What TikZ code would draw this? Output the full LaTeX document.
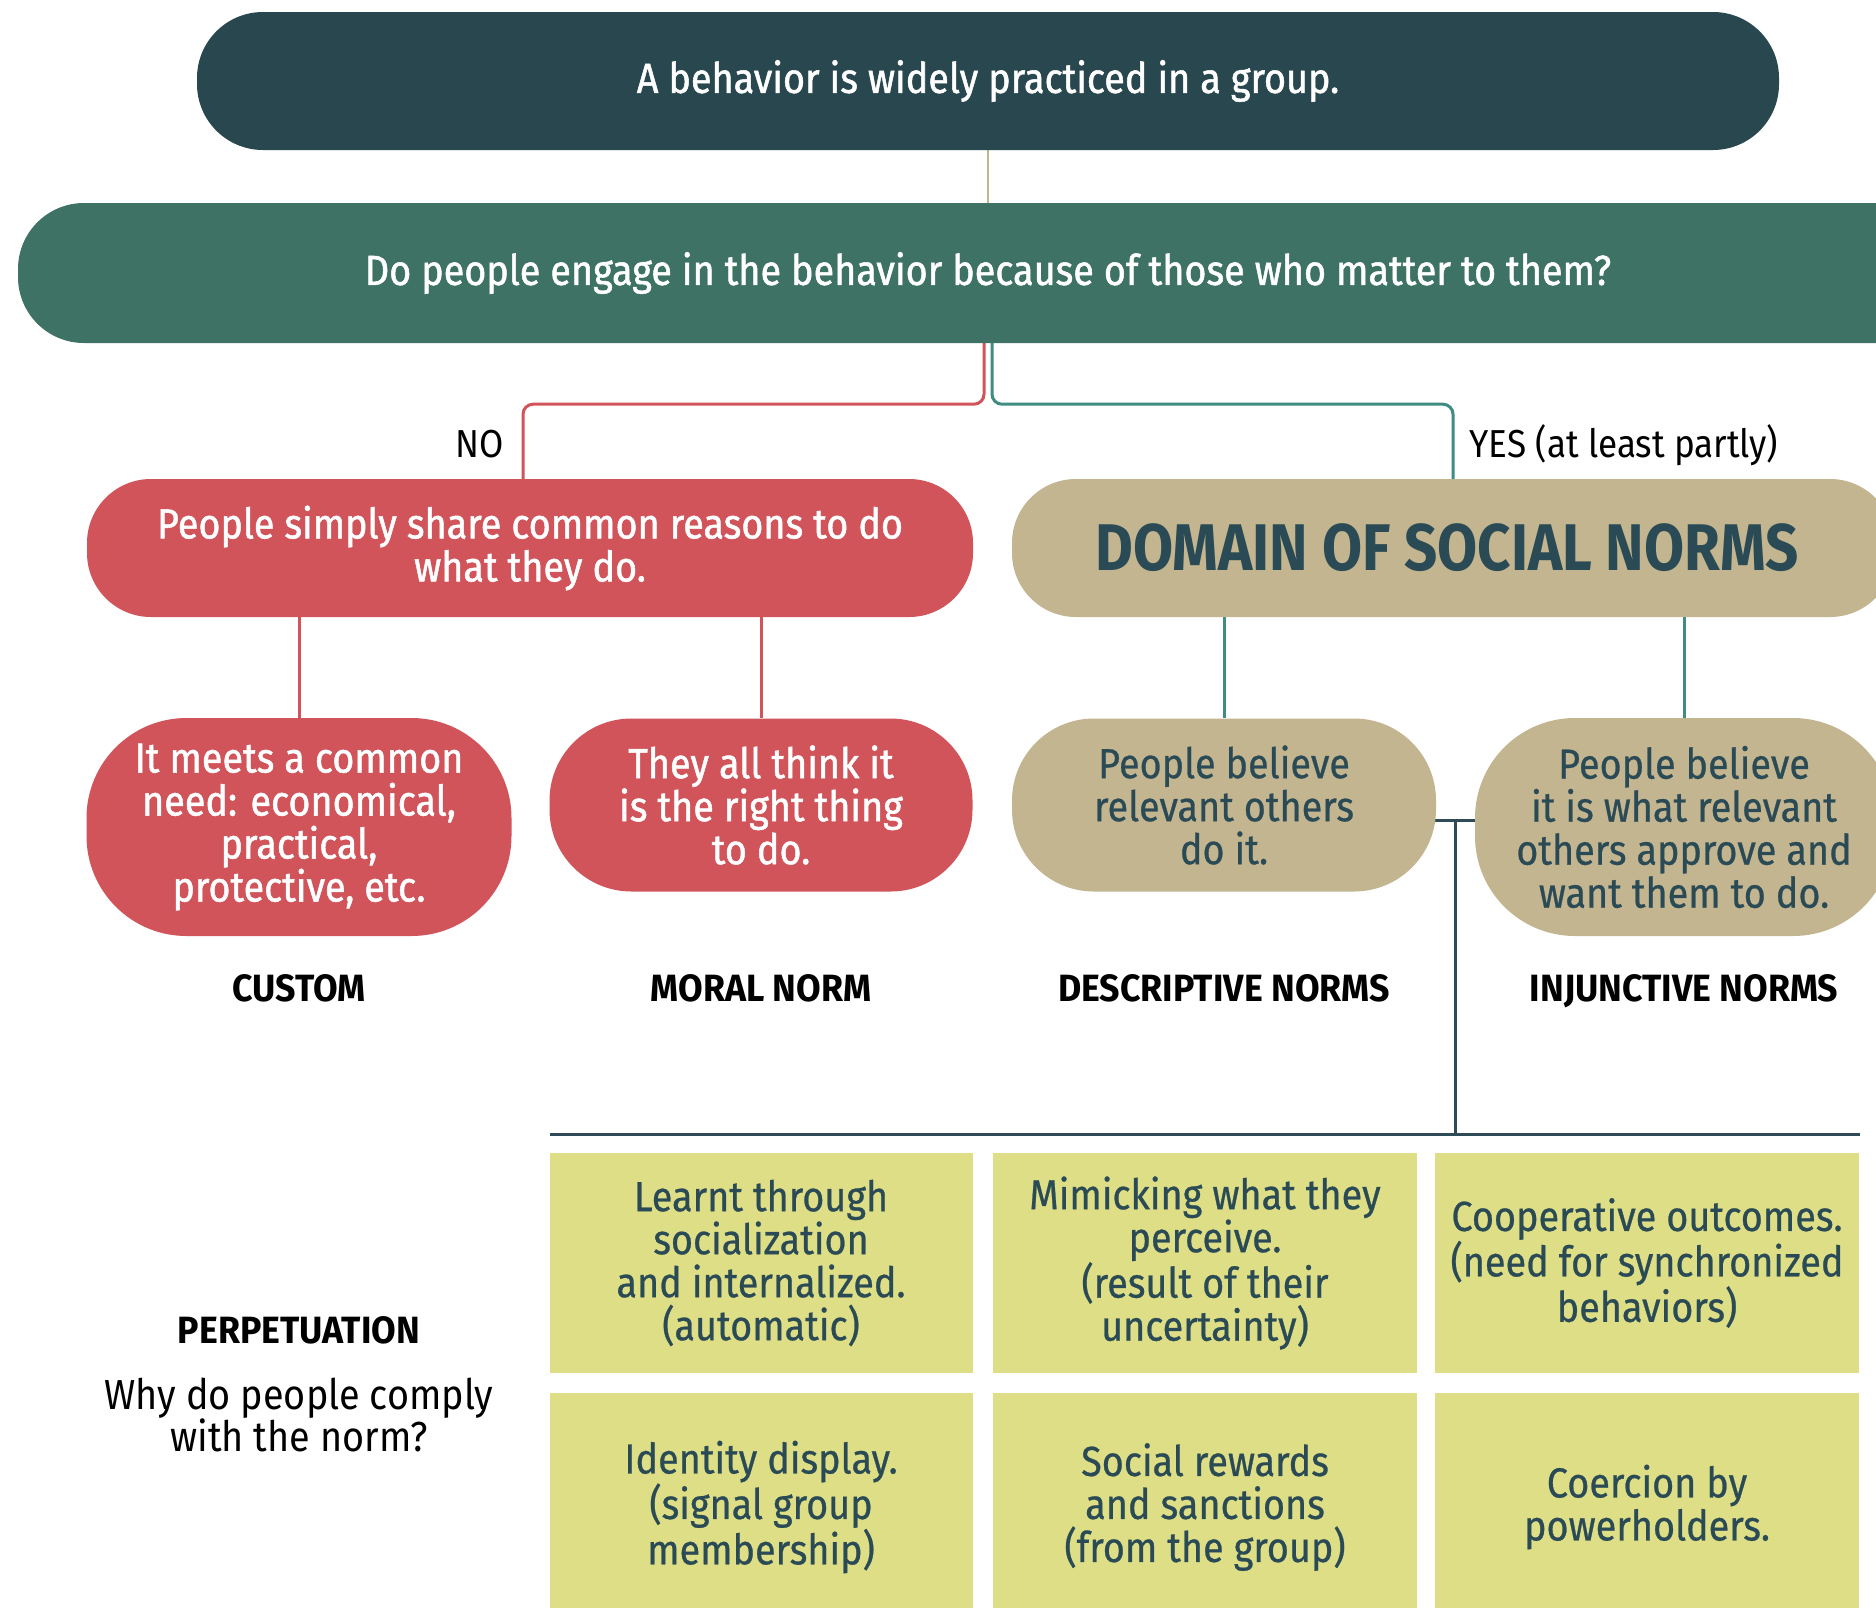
\documentclass[tikz,border=0pt]{standalone}
\usepackage{fontspec}
\setmainfont{Fira Sans}[FakeStretch=0.88]
\newfontfamily\bodyf{Fira Sans}[FakeStretch=0.9, FakeBold=1.2]
\newfontfamily\gridf{Fira Sans}[FakeStretch=0.9, FakeBold=0.6]
\newfontfamily\plainf{Fira Sans}[FakeStretch=0.9]
\newfontfamily\labf{Fira Sans}[FakeStretch=0.94]
\usetikzlibrary{calc,backgrounds}
\definecolor{topc}{HTML}{29474F}
\definecolor{qc}{HTML}{3E7264}
\definecolor{redc}{HTML}{D1545A}
\definecolor{tanc}{HTML}{C3B58F}
\definecolor{darkt}{HTML}{2A4A55}
\definecolor{yelc}{HTML}{DDDE86}
\definecolor{tealline}{HTML}{3F8C82}
\definecolor{darkline}{HTML}{2E4B57}
\tikzset{
  pill/.style={shape=rectangle, inner sep=0pt, align=center},
  whitetxt/.style={text=white, font=\bodyf\fontsize{42}{43}\selectfont},
  darktxt/.style={text=darkt, font=\gridf\fontsize{42}{43}\selectfont},
  cell/.style={shape=rectangle, fill=yelc, inner sep=0pt, align=center, text=darkt, font=\gridf\fontsize{42}{43}\selectfont},
  lab/.style={font=\labf\bfseries\fontsize{38}{40}\selectfont, text=black, anchor=base},
  answer/.style={font=\plainf\fontsize{39}{40}\selectfont, text=black},
  conn/.style={line width=3pt},
}
\begin{document}
\begin{tikzpicture}[x=1pt,y=1pt]
\useasboundingbox (0,0) rectangle (1876,-1607);
% top boxes
\node[pill, fill=topc, whitetxt, minimum width=1582, minimum height=138, rounded corners=66] (top) at (988,-81) {A behavior is widely practiced in a group.};
\node[pill, fill=qc, whitetxt, minimum width=1940, minimum height=140, rounded corners=66] (q) at (988,-273) {Do people engage in the behavior because of those who matter to them?};
% level 2
\node[pill, fill=redc, whitetxt, minimum width=886, minimum height=138, rounded corners=64] (share) at (530,-548) {People simply share common reasons to do\\what they do.};
\node[pill, fill=tanc, text=darkt, font=\bfseries\fontsize{66}{70}\selectfont, minimum width=882, minimum height=138, rounded corners=64] (dom) at (1453,-548) {\hspace*{-12pt}DOMAIN OF SOCIAL NORMS};
% level 3
\node[pill, fill=redc, whitetxt, minimum width=425, minimum height=218, rounded corners=100] (custom) at (299,-827) {It meets a common\\need: economical,\\practical,\\protective, etc.};
\node[pill, fill=redc, whitetxt, minimum width=423, minimum height=173, rounded corners=82] (moral) at (761,-805) {They all think it\\is the right thing\\to do.};
\node[pill, fill=tanc, darktxt, minimum width=424, minimum height=173, rounded corners=82] (desc) at (1224,-805) {People believe\\relevant others\\do it.};
\node[pill, fill=tanc, darktxt, minimum width=418, minimum height=218, rounded corners=100] (inj) at (1684,-827) {People believe\\it is what relevant\\others approve and\\want them to do.};
% labels
\node[lab] (l1) at (299,-1001) {CUSTOM};
\node[lab] (l2) at (761,-1001) {MORAL NORM};
\node[lab] (l3) at (1224,-1001) {DESCRIPTIVE NORMS};
\node[lab] (l4) at (1684,-1001) {INJUNCTIVE NORMS};
\node[answer, anchor=base east] (no) at (507,-457) {NO};
\node[answer, anchor=base west] (yes) at (1466,-457) {YES (at least partly)};
% grid
\node[cell, minimum width=423, minimum height=220] (c11) at (761,-1263) {Learnt through\\socialization\\and internalized.\\(automatic)};
\node[cell, minimum width=424, minimum height=220] (c12) at (1205,-1263) {Mimicking what they\\perceive.\\(result of their\\uncertainty)};
\node[cell, minimum width=424, minimum height=220] (c13) at (1647,-1263) {Cooperative outcomes.\\(need for synchronized\\behaviors)};
\node[cell, minimum width=423, minimum height=228] (c21) at (761,-1507) {Identity display.\\(signal group\\membership)};
\node[cell, minimum width=424, minimum height=228] (c22) at (1205,-1507) {Social rewards\\and sanctions\\(from the group)};
\node[cell, minimum width=424, minimum height=228] (c23) at (1647,-1507) {Coercion by\\powerholders.};
\node[lab] (perp) at (299,-1343) {PERPETUATION};
\node[font=\plainf\fontsize{42}{41}\selectfont, align=center, text=black] (why) at (299,-1415) {Why do people comply\\with the norm?};
% connectors
\coordinate (jn) at (1455,-820);
\coordinate (hl0) at (550,-1134);
\coordinate (hl1) at (1860,-1134);
\begin{pgfonlayer}{background}
\fill[white] (0,0) rectangle (1876,-1607);
\draw[conn, tanc, line width=2.5pt] (top.south) -- (q.north);
\draw[conn, redc, rounded corners=10] ($(q.south)+(-4,0)$) -- ++(0,-61) -| ($(share.north)+(-7,0)$);
\draw[conn, tealline, rounded corners=10] ($(q.south)+(4,0)$) -- ++(0,-61) -| (dom.north);
\draw[conn, redc] (custom.north |- share.south) -- (custom.north);
\draw[conn, redc] (moral.north |- share.south) -- (moral.north);
\draw[conn, tealline] (desc.north |- dom.south) -- (desc.north);
\draw[conn, tealline] (inj.north |- dom.south) -- (inj.north);
\draw[conn, darkline] (desc.center |- jn) -- (inj.center |- jn);
\draw[conn, darkline] (jn) -- (jn |- hl0);
\draw[conn, darkline] (hl0) -- (hl1);
\end{pgfonlayer}
\end{tikzpicture}
\end{document}
